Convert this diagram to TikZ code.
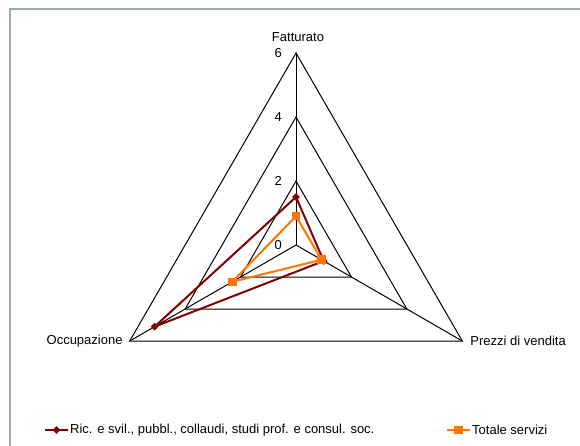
\documentclass[tikz,border=0pt]{standalone}
\usepackage{fontspec}
\setmainfont{Liberation Sans}
\usetikzlibrary{positioning,shapes.geometric}
\definecolor{ricred}{RGB}{128,0,0}
\definecolor{totorange}{RGB}{255,118,0}
\definecolor{framegray}{RGB}{152,170,178}
\tikzset{
  webline/.style={draw=black, line width=1pt},
  ricline/.style={draw=ricred, line width=2pt},
  totline/.style={draw=totorange, line width=2pt},
  ricmark/.style={diamond, fill=ricred, inner sep=0pt, minimum size=8pt},
  totmark/.style={rectangle, fill=totorange, inner sep=0pt, minimum size=8.5pt},
  lab/.style={font=\fontsize{13}{15}\selectfont, inner sep=1pt},
}
\begin{document}
\begin{tikzpicture}[x=1pt,y=1pt]
\useasboundingbox (0,0) rectangle (580,445);
\begin{scope}
\clip (0,0) rectangle (580,445);
\draw[framegray, line width=1.5pt] (10,-20) -- (10,436) -- (600,436);
\end{scope}
% web: center (296,200), 32pt per unit
\begin{scope}[shift={(296,200)}]
\coordinate (c) at (0,0);
\foreach \r in {2,4,6} {
  \draw[webline] (90:32*\r) -- (-30:32*\r) -- (210:32*\r) -- cycle;
  \node[lab, anchor=east] (val\r) at (-13,32*\r) {\r};
}
\node[lab, anchor=east] (val0) at (-13,0) {0};
\coordinate (axF) at (90:192);
\coordinate (axP) at (-30:192);
\coordinate (axO) at (210:192);
\draw[webline] (c) -- (axF);
\draw[webline] (c) -- (axP);
\draw[webline] (c) -- (axO);
\node[lab, above=10pt of axF, xshift=2pt] (fatt) {Fatturato};
\node[lab, right=7pt of axP] (prez) {Prezzi di vendita};
\node[lab, left=6pt of axO] (occ) {Occupazione};
% series
\coordinate (ricF) at (90:32*1.5);
\coordinate (ricP) at (-30:32*1.0);
\coordinate (ricO) at (210:32*5.1);
\coordinate (totF) at (90:32*0.9);
\coordinate (totP) at (-30:32*0.92);
\coordinate (totO) at (210:32*2.3);
\draw[ricline] (ricF) -- (ricP) -- (ricO) -- cycle;
\draw[totline] (totF) -- (totP) -- (totO) -- cycle;
\node[ricmark] (ricFm) at (ricF) {};
\node[ricmark] (ricPm) at (ricP) {};
\node[ricmark] (ricOm) at (ricO) {};
\node[totmark] (totFm) at (totF) {};
\node[totmark] (totPm) at (totP) {};
\node[totmark] (totOm) at (totO) {};
\end{scope}
% legend
\coordinate (legricA) at (45,15);
\coordinate (legricB) at (68,15);
\draw[ricline] (legricA) -- (legricB);
\node[ricmark] (legricm) at (56.5,15) {};
\node[lab, right=1pt of legricB] (legric) {Ric. e svil., pubbl., collaudi, studi prof. e consul. soc.};
\coordinate (legtotA) at (447,15);
\coordinate (legtotB) at (470,15);
\draw[totline] (legtotA) -- (legtotB);
\node[totmark] (legtotm) at (458.5,15) {};
\node[lab, right=1pt of legtotB] (legtot) {Totale servizi};
\end{tikzpicture}
\end{document}
